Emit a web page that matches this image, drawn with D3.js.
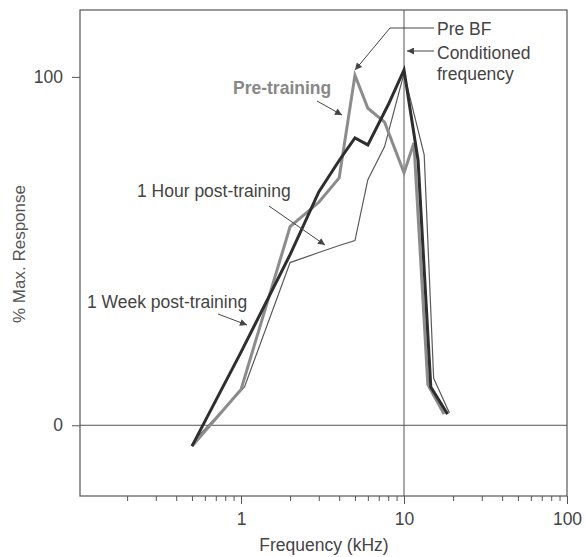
<!DOCTYPE html>
<html>
<head>
<meta charset="utf-8">
<script src="https://cdn.jsdelivr.net/npm/d3@7"></script>
<style>
  body { margin: 0; background: #fff; }
  text { font-family: "Liberation Sans", Arial, sans-serif; }
</style>
</head>
<body>
<div id="chart"></div>
<script>
// Data.
const weekFreq = [0.5, 1, 2, 3, 4, 5, 6, 8, 10, 12.2, 14.6, 18.5];
const weekVals = [-6, 21, 49, 67, 76, 82.5, 80.5, 92, 102, 76, 11, 3.2];

const preFreq = [0.5, 1, 2, 3, 4, 5, 6, 7.6, 10, 11.5, 14, 17.6];
const preVals = [-6, 10.3, 57, 64, 71, 100.5, 91, 87, 72.5, 81, 11.7, 3.2];

const hourFreq = [0.55, 1.05, 2, 3, 4, 5, 6, 7.6, 10, 13.3, 15.2, 19];
const hourVals = [-3, 11, 46.7, 49.6, 51.6, 53, 70.5, 80, 101, 77.6, 13.5, 3.5];

const xMajor = [1, 10, 100];
const yTicks = [0, 100];

// Margin convention.
const W = 585, H = 557;
const plot = { left: 80, right: 567, top: 10, bottom: 496 };
const fs = "17.5px";

const svg = d3.select("#chart").append("svg")
  .attr("width", W)
  .attr("height", H);

const defs = svg.append("defs");
defs.append("marker")
  .attr("id", "arrow")
  .attr("viewBox", "0 0 10 10")
  .attr("refX", 10).attr("refY", 5)
  .attr("markerWidth", 9).attr("markerHeight", 7)
  .attr("markerUnits", "userSpaceOnUse")
  .attr("orient", "auto")
  .append("path")
  .attr("d", "M0,0 L10,5 L0,10 z")
  .attr("fill", "#444");

// Scales.
const xScale = d3.scaleLog().domain([0.1028, 100]).range([plot.left, plot.right]);
const yScale = d3.scaleLinear().domain([-20.3, 119.2]).range([plot.bottom, plot.top]);

const axisColor = "#555";
const textColor = "#444";

// Frame.
svg.append("rect")
  .attr("x", plot.left).attr("y", plot.top)
  .attr("width", plot.right - plot.left)
  .attr("height", plot.bottom - plot.top)
  .attr("fill", "none")
  .attr("stroke", axisColor)
  .attr("stroke-width", 1.2);

// Reference lines: zero and conditioned frequency.
svg.append("line")
  .attr("x1", plot.left).attr("x2", plot.right)
  .attr("y1", yScale(0)).attr("y2", yScale(0))
  .attr("stroke", axisColor).attr("stroke-width", 1);

svg.append("line")
  .attr("x1", xScale(10)).attr("x2", xScale(10))
  .attr("y1", plot.top).attr("y2", plot.bottom)
  .attr("stroke", axisColor).attr("stroke-width", 1);

// Minor x ticks.
const minorVals = [];
[0.1, 1, 10].forEach(d => { for (let k = 2; k <= 9; k++) minorVals.push(d * k); });

const xMinor = d3.axisBottom(xScale)
  .tickValues(minorVals.filter(v => v >= 0.1028))
  .tickSize(5)
  .tickFormat("");
svg.append("g")
  .attr("transform", `translate(0, ${plot.bottom})`)
  .call(xMinor)
  .call(g => g.select(".domain").remove())
  .call(g => g.selectAll("line").attr("stroke", axisColor));

// Major x ticks.
const xAxis = d3.axisBottom(xScale)
  .tickValues(xMajor)
  .tickSize(8)
  .tickPadding(9)
  .tickFormat(d3.format("d"));
svg.append("g")
  .attr("transform", `translate(0, ${plot.bottom})`)
  .call(xAxis)
  .call(g => g.select(".domain").remove())
  .call(g => g.selectAll("line").attr("stroke", axisColor))
  .call(g => g.selectAll("text")
    .attr("fill", textColor)
    .style("font-size", fs)
    .style("font-family", "Liberation Sans, Arial, sans-serif"));

// Y ticks.
const yAxis = d3.axisLeft(yScale)
  .tickValues(yTicks)
  .tickSize(8)
  .tickPadding(9)
  .tickFormat(d3.format("d"));
svg.append("g")
  .attr("transform", `translate(${plot.left}, 0)`)
  .call(yAxis)
  .call(g => g.select(".domain").remove())
  .call(g => g.selectAll("line").attr("stroke", axisColor))
  .call(g => g.selectAll("text")
    .attr("fill", textColor)
    .style("font-size", fs)
    .style("font-family", "Liberation Sans, Arial, sans-serif"));

// Axis titles.
svg.append("text")
  .attr("x", 324)
  .attr("y", 551)
  .attr("text-anchor", "middle")
  .attr("fill", textColor)
  .style("font-size", "17.5px")
  .text("Frequency (kHz)");

svg.append("text")
  .attr("transform", `translate(25, 254) rotate(-90)`)
  .attr("text-anchor", "middle")
  .attr("fill", "#555")
  .style("font-size", "17px")
  .text("% Max. Response");

// Lines.
const lineGen = d3.line()
  .x(d => xScale(d.f))
  .y(d => yScale(d.v));

const zip = (fs, vs) => fs.map((f, i) => ({ f: f, v: vs[i] }));

const series = [
  { name: "hour", values: zip(hourFreq, hourVals), color: "#5a5a5a", width: 1.2 },
  { name: "pre", values: zip(preFreq, preVals), color: "#8c8c8c", width: 3 },
  { name: "week", values: zip(weekFreq, weekVals), color: "#2e2e2e", width: 3 }
];

svg.append("g").attr("class", "lines")
  .selectAll("path")
  .data(series)
  .enter()
  .append("path")
  .attr("d", d => lineGen(d.values))
  .attr("fill", "none")
  .attr("stroke", d => d.color)
  .attr("stroke-width", d => d.width)
  .attr("stroke-linejoin", "miter");

// Annotations.
const ann = svg.append("g").attr("class", "annotations");

function arrow(points) {
  ann.append("path")
    .attr("d", d3.line()(points))
    .attr("fill", "none")
    .attr("stroke", "#444")
    .attr("stroke-width", 1)
    .attr("marker-end", "url(#arrow)");
}

function label(x, y, txt) {
  return ann.append("text").attr("x", x).attr("y", y)
    .attr("fill", textColor).style("font-size", fs).text(txt);
}

label(437, 35, "Pre BF");
label(437, 59, "Conditioned");
label(437, 80, "frequency");

arrow([[434, 28], [390, 28], [355, 70]]);
arrow([[434, 51], [407, 51]]);

label(233, 94, "Pre-training")
  .attr("fill", "#888")
  .style("font-weight", "bold");
arrow([[317, 101], [342, 115]]);

label(137, 197, "1 Hour post-training");
arrow([[269, 206], [325, 245]]);

label(87, 308, "1 Week post-training");
arrow([[218, 314], [247, 325]]);
</script>
</body>
</html>
